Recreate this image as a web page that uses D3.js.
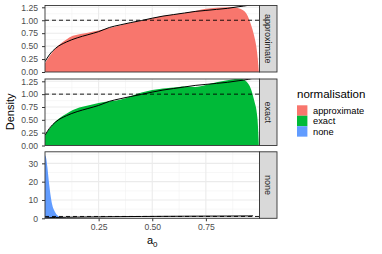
<!DOCTYPE html>
<html><head><meta charset="utf-8">
<script src="https://cdn.jsdelivr.net/npm/d3@7"></script>
<style>body{margin:0;background:#fff}svg{display:block;font-family:"Liberation Sans",Arial,sans-serif}</style>
</head><body><svg id="c" width="382" height="254"></svg>
<script>
// ---- data ----
const panels = ["approximate", "exact", "none"];
const colors = ["#F8766D", "#00BA38", "#619CFF"];
const xTicks = [0.25, 0.5, 0.75];
const xMinor = [0.125, 0.375, 0.625, 0.875];
const yTicksSmall = [0, 0.25, 0.5, 0.75, 1, 1.25];
const yTickLabelsSmall = ["0.00", "0.25", "0.50", "0.75", "1.00", "1.25"];
const yTicksNone = [0, 10, 20, 30];
const yTickLabelsNone = ["0", "10", "20", "30"];

const gridAE = [0, 0.02, 0.05, 0.1, 0.13, 0.16, 0.2, 0.25, 0.3, 0.35, 0.4, 0.45, 0.5, 0.55, 0.6, 0.65, 0.7, 0.75, 0.8, 0.85, 0.88, 0.91, 0.94, 0.96, 0.975, 0.99, 0.997];
const densApprox = [0.17, 0.30, 0.46, 0.63, 0.70, 0.73, 0.76, 0.80, 0.85, 0.90, 0.95, 0.99, 1.04, 1.08, 1.11, 1.14, 1.18, 1.22, 1.24, 1.25, 1.25, 1.22, 1.12, 0.92, 0.70, 0.34, 0.0];
const densExact  = [0.195, 0.32, 0.47, 0.62, 0.69, 0.74, 0.78, 0.83, 0.86, 0.89, 0.96, 1.03, 1.08, 1.11, 1.13, 1.15, 1.14, 1.18, 1.23, 1.27, 1.29, 1.30, 1.24, 1.10, 0.88, 0.55, 0.0];
const gridNone = [0, 0.005, 0.011, 0.019, 0.027, 0.034, 0.042, 0.05, 0.065, 0.08, 0.1, 0.15, 0.3, 0.6, 0.9, 0.997];
const densNone = [34.6, 33, 28, 19, 11.8, 7.2, 4.5, 2.7, 0.9, 0.3, 0.1, 0.05, 0.02, 0.02, 0.02, 0];
const gridTheory = [0, 0.02, 0.05, 0.1, 0.15, 0.2, 0.25, 0.3, 0.35, 0.4, 0.45, 0.5, 0.55, 0.6, 0.65, 0.7, 0.75, 0.8, 0.85, 0.9, 0.95, 0.97];
const densTheory = [0.20, 0.33, 0.46, 0.58, 0.66, 0.72, 0.78, 0.86, 0.91, 0.955, 0.995, 1.04, 1.08, 1.11, 1.14, 1.17, 1.19, 1.21, 1.23, 1.26, 1.29, 1.31];
const uniformLevel = 1;

// ---- layout ----
const svg = d3.select("#c");
const left = 45, right = 259.5, stripW = 17.5;
const panelTops = [5.5, 79, 151.8], panelH = 66.5;
const yMax = [1.285, 1.295, 36.3];
const x = d3.scaleLinear().domain([0, 1]).range([left, right]);

const series = [
  gridAE.map((a, i) => [a, densApprox[i]]),
  gridAE.map((a, i) => [a, densExact[i]]),
  gridNone.map((a, i) => [a, densNone[i]])
];
const theory = gridTheory.map((a, i) => [a, densTheory[i]]);

panels.forEach((name, p) => {
  const top = panelTops[p], bot = top + panelH;
  const y = d3.scaleLinear().domain([0, yMax[p]]).range([bot, top]);
  const g = svg.append("g");
  g.append("clipPath").attr("id", "clip" + p).append("rect")
    .attr("x", left).attr("y", top).attr("width", right - left).attr("height", panelH);
  g.append("rect").attr("x", left).attr("y", top).attr("width", right - left).attr("height", panelH).attr("fill", "#fff");
  const yt = p < 2 ? yTicksSmall : yTicksNone;
  const ytl = p < 2 ? yTickLabelsSmall : yTickLabelsNone;
  const step = yt[1] - yt[0];
  const yMinor = d3.range(step / 2, yMax[p], step);
  const grid = g.append("g").attr("clip-path", `url(#clip${p})`);
  xMinor.forEach(v => grid.append("line").attr("x1", x(v)).attr("x2", x(v)).attr("y1", top).attr("y2", bot).attr("stroke", "#F2F2F2").attr("stroke-width", 0.6));
  yMinor.forEach(v => grid.append("line").attr("x1", left).attr("x2", right).attr("y1", y(v)).attr("y2", y(v)).attr("stroke", "#F2F2F2").attr("stroke-width", 0.6));
  xTicks.forEach(v => grid.append("line").attr("x1", x(v)).attr("x2", x(v)).attr("y1", top).attr("y2", bot).attr("stroke", "#EBEBEB").attr("stroke-width", 1.1));
  yt.forEach(v => grid.append("line").attr("x1", left).attr("x2", right).attr("y1", y(v)).attr("y2", y(v)).attr("stroke", "#EBEBEB").attr("stroke-width", 1.1));

  const area = d3.area().x(d => x(d[0])).y0(y(0)).y1(d => y(d[1])).curve(d3.curveMonotoneX);
  grid.append("path").datum(series[p]).attr("d", area).attr("fill", colors[p]);
  const line = d3.line().x(d => x(d[0])).y(d => y(d[1])).curve(d3.curveMonotoneX);
  grid.append("path").datum(theory).attr("d", line).attr("fill", "none").attr("stroke", "#000").attr("stroke-width", 1);
  grid.append("line").attr("x1", left).attr("x2", right).attr("y1", y(uniformLevel)).attr("y2", y(uniformLevel))
    .attr("stroke", "#000").attr("stroke-width", 0.9).attr("stroke-dasharray", "4,3");

  g.append("rect").attr("x", left).attr("y", top).attr("width", right - left).attr("height", panelH)
    .attr("fill", "none").attr("stroke", "#333").attr("stroke-width", 0.9);

  // y axis
  const ax = g.append("g").attr("transform", `translate(${left},0)`)
    .call(d3.axisLeft(y).tickValues(yt).tickFormat((d, i) => ytl[i]).tickSize(3).tickPadding(4));
  ax.select(".domain").remove();
  ax.selectAll("line").attr("stroke", "#333");
  ax.selectAll("text").attr("fill", "#4D4D4D").style("font-size", "8.6px").style("font-family", "Liberation Sans, Arial, sans-serif");

  // strip
  g.append("rect").attr("x", right).attr("y", top).attr("width", stripW).attr("height", panelH)
    .attr("fill", "#D9D9D9").attr("stroke", "#333").attr("stroke-width", 0.9);
  g.append("text").attr("transform", `translate(${right + stripW / 2},${top + panelH / 2}) rotate(90)`)
    .attr("text-anchor", "middle").attr("dy", "0.35em").attr("fill", "#1A1A1A")
    .style("font-size", "9px").text(name);

  if (p === 2) {
    const xa = g.append("g").attr("transform", `translate(0,${bot})`)
      .call(d3.axisBottom(x).tickValues(xTicks).tickFormat(d3.format(".2f")).tickSize(3).tickPadding(3));
    xa.select(".domain").remove();
    xa.selectAll("line").attr("stroke", "#333");
    xa.selectAll("text").attr("fill", "#4D4D4D").style("font-size", "8.6px").style("font-family", "Liberation Sans, Arial, sans-serif");
  }
});

// axis titles
const xt = svg.append("text").attr("x", (left + right) / 2).attr("y", 244).attr("text-anchor", "middle")
  .style("font-size", "11px").attr("fill", "#000");
xt.append("tspan").text("a");
xt.append("tspan").attr("dy", 2.5).style("font-size", "8px").text("0");
svg.append("text").attr("transform", `translate(14,${(panelTops[0] + panelTops[2] + panelH) / 2}) rotate(-90)`)
  .attr("text-anchor", "middle").style("font-size", "11px").attr("fill", "#000").text("Density");

// legend
const lg = svg.append("g").attr("transform", "translate(297,0)");
lg.append("text").attr("x", 0).attr("y", 98).style("font-size", "11.5px").attr("fill", "#000").text("normalisation");
panels.forEach((name, i) => {
  const ky = 105.3 + i * 10.45;
  lg.append("rect").attr("x", 0).attr("y", ky).attr("width", 10.4).attr("height", 10.45).attr("fill", colors[i]);
  lg.append("text").attr("x", 16).attr("y", ky + 5.2).attr("dy", "0.35em").style("font-size", "9.3px").attr("fill", "#000").text(name);
});
</script></body></html>
